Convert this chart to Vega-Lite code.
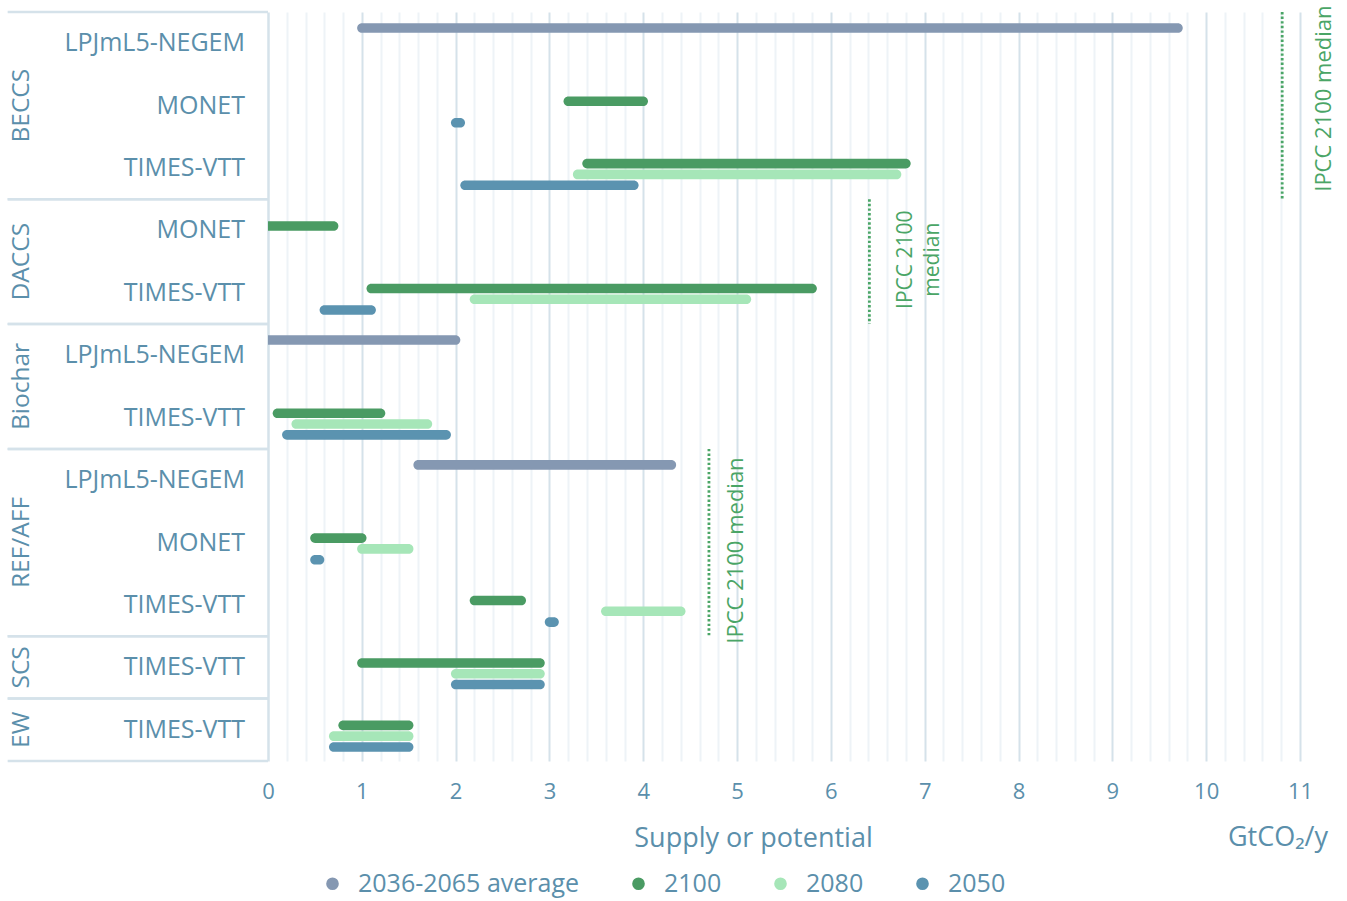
{
  "$schema": "https://vega.github.io/schema/vega-lite/v6.json",
  "width": 1032,
  "height": 749,
  "autosize": {"type": "none"},
  "padding": {"left": 268, "top": 12, "right": 47, "bottom": 140},
  "background": "white",
  "config": {
    "font": "Open Sans",
    "view": {"stroke": null}
  },
  "datasets": {
    "rows": [
      {"group": "BECCS", "model": "LPJmL5-NEGEM"},
      {"group": "BECCS", "model": "MONET"},
      {"group": "BECCS", "model": "TIMES-VTT"},
      {"group": "DACCS", "model": "MONET"},
      {"group": "DACCS", "model": "TIMES-VTT"},
      {"group": "Biochar", "model": "LPJmL5-NEGEM"},
      {"group": "Biochar", "model": "TIMES-VTT"},
      {"group": "REF/AFF", "model": "LPJmL5-NEGEM"},
      {"group": "REF/AFF", "model": "MONET"},
      {"group": "REF/AFF", "model": "TIMES-VTT"},
      {"group": "SCS", "model": "TIMES-VTT"},
      {"group": "EW", "model": "TIMES-VTT"}
    ],
    "groups": [
      {"group": "BECCS", "n": 3, "first": "LPJmL5-NEGEM", "center": "MONET", "last": "TIMES-VTT"},
      {"group": "DACCS", "n": 2, "first": "MONET", "center": "MONET", "last": "TIMES-VTT"},
      {"group": "Biochar", "n": 2, "first": "LPJmL5-NEGEM", "center": "LPJmL5-NEGEM", "last": "TIMES-VTT"},
      {"group": "REF/AFF", "n": 3, "first": "LPJmL5-NEGEM", "center": "MONET", "last": "TIMES-VTT"},
      {"group": "SCS", "n": 1, "first": "TIMES-VTT", "center": "TIMES-VTT", "last": "TIMES-VTT"},
      {"group": "EW", "n": 1, "first": "TIMES-VTT", "center": "TIMES-VTT", "last": "TIMES-VTT"}
    ],
    "ipcc": [
      {"group": "BECCS", "median": 10.81, "first": "LPJmL5-NEGEM", "center": "MONET", "last": "TIMES-VTT"},
      {"group": "DACCS", "median": 6.41, "first": "MONET", "center": "MONET", "last": "TIMES-VTT"},
      {"group": "REF/AFF", "median": 4.7, "first": "LPJmL5-NEGEM", "center": "MONET", "last": "TIMES-VTT"}
    ],
    "bars": [
      {"group": "BECCS", "model": "LPJmL5-NEGEM", "series": "2036-2065 average", "start": 0.95, "end": 9.75},
      {"group": "BECCS", "model": "MONET", "series": "2100", "start": 3.15, "end": 4.05},
      {"group": "BECCS", "model": "MONET", "series": "2050", "start": 1.95, "end": 2.1},
      {"group": "BECCS", "model": "TIMES-VTT", "series": "2100", "start": 3.35, "end": 6.85},
      {"group": "BECCS", "model": "TIMES-VTT", "series": "2080", "start": 3.25, "end": 6.75},
      {"group": "BECCS", "model": "TIMES-VTT", "series": "2050", "start": 2.05, "end": 3.95},
      {"group": "DACCS", "model": "MONET", "series": "2100", "start": -0.3, "end": 0.75},
      {"group": "DACCS", "model": "TIMES-VTT", "series": "2100", "start": 1.05, "end": 5.85},
      {"group": "DACCS", "model": "TIMES-VTT", "series": "2080", "start": 2.15, "end": 5.15},
      {"group": "DACCS", "model": "TIMES-VTT", "series": "2050", "start": 0.55, "end": 1.15},
      {"group": "Biochar", "model": "LPJmL5-NEGEM", "series": "2036-2065 average", "start": -0.3, "end": 2.05},
      {"group": "Biochar", "model": "TIMES-VTT", "series": "2100", "start": 0.05, "end": 1.25},
      {"group": "Biochar", "model": "TIMES-VTT", "series": "2080", "start": 0.25, "end": 1.75},
      {"group": "Biochar", "model": "TIMES-VTT", "series": "2050", "start": 0.15, "end": 1.95},
      {"group": "REF/AFF", "model": "LPJmL5-NEGEM", "series": "2036-2065 average", "start": 1.55, "end": 4.35},
      {"group": "REF/AFF", "model": "MONET", "series": "2100", "start": 0.45, "end": 1.05},
      {"group": "REF/AFF", "model": "MONET", "series": "2080", "start": 0.95, "end": 1.55},
      {"group": "REF/AFF", "model": "MONET", "series": "2050", "start": 0.45, "end": 0.6},
      {"group": "REF/AFF", "model": "TIMES-VTT", "series": "2100", "start": 2.15, "end": 2.75},
      {"group": "REF/AFF", "model": "TIMES-VTT", "series": "2080", "start": 3.55, "end": 4.45},
      {"group": "REF/AFF", "model": "TIMES-VTT", "series": "2050", "start": 2.95, "end": 3.1},
      {"group": "SCS", "model": "TIMES-VTT", "series": "2100", "start": 0.95, "end": 2.95},
      {"group": "SCS", "model": "TIMES-VTT", "series": "2080", "start": 1.95, "end": 2.95},
      {"group": "SCS", "model": "TIMES-VTT", "series": "2050", "start": 1.95, "end": 2.95},
      {"group": "EW", "model": "TIMES-VTT", "series": "2100", "start": 0.75, "end": 1.55},
      {"group": "EW", "model": "TIMES-VTT", "series": "2080", "start": 0.65, "end": 1.55},
      {"group": "EW", "model": "TIMES-VTT", "series": "2050", "start": 0.65, "end": 1.55}
    ]
  },
  "layer": [
    {
      "data": {"name": "bars"},
      "transform": [{"calculate": "datum.group + ' · ' + datum.model", "as": "row"}],
      "mark": {"type": "bar", "height": 9.6, "cornerRadius": 4.8, "clip": true},
      "encoding": {
        "y": {
          "field": "row", "type": "nominal", "axis": null,
          "scale": {
            "domain": ["BECCS · LPJmL5-NEGEM", "BECCS · MONET", "BECCS · TIMES-VTT", "DACCS · MONET", "DACCS · TIMES-VTT", "Biochar · LPJmL5-NEGEM", "Biochar · TIMES-VTT", "REF/AFF · LPJmL5-NEGEM", "REF/AFF · MONET", "REF/AFF · TIMES-VTT", "SCS · TIMES-VTT", "EW · TIMES-VTT"],
            "paddingInner": 0, "paddingOuter": 0
          }
        },
        "yOffset": {
          "field": "series", "type": "nominal",
          "scale": {"domain": ["2036-2065 average", "2100", "2080", "2050"], "paddingInner": 0, "paddingOuter": 0.89, "align": 0.55}
        },
        "x": {
          "field": "start", "type": "quantitative",
          "scale": {"domain": [0, 11], "nice": false, "zero": false},
          "axis": {
            "values": [0, 0.2, 0.4, 0.6, 0.8, 1, 1.2, 1.4, 1.6, 1.8, 2, 2.2, 2.4, 2.6, 2.8, 3, 3.2, 3.4, 3.6, 3.8, 4, 4.2, 4.4, 4.6, 4.8, 5, 5.2, 5.4, 5.6, 5.8, 6, 6.2, 6.4, 6.6, 6.8, 7, 7.2, 7.4, 7.6, 7.8, 8, 8.2, 8.4, 8.6, 8.8, 9, 9.2, 9.4, 9.6, 9.8, 10, 10.2, 10.4, 10.6, 10.8, 11],
            "tickCount": 200,
            "labelExpr": "datum.value % 1 === 0 ? '' + datum.value : ''",
            "grid": true,
            "gridColor": {"condition": {"test": "datum.value % 1 === 0", "value": "#d5e2ea"}, "value": "#eef3f7"},
            "gridWidth": {"condition": {"test": "datum.value === 0", "value": 2.5}, "value": 2},
            "domain": false,
            "ticks": false,
            "tickSize": 0,
            "labelFontSize": 22,
            "labelColor": "#5b8fab",
            "labelPadding": 20,
            "labelFlush": false,
            "labelOverlap": false,
            "labelBound": false,
            "title": "Supply or potential",
            "titleFontSize": 27,
            "titleFontWeight": "normal",
            "titleColor": "#5b8fab",
            "titleX": 485,
            "titleY": 77,
            "titleAlign": "center",
            "titleBaseline": "middle"
          }
        },
        "x2": {"field": "end"},
        "color": {
          "field": "series", "type": "nominal",
          "scale": {"domain": ["2036-2065 average", "2100", "2080", "2050"], "range": ["#8598b2", "#4a9b63", "#a6e6b8", "#5b93b0"]},
          "legend": {
            "orient": "none", "legendX": 52, "legendY": 859, "direction": "horizontal",
            "title": null, "symbolType": "circle", "symbolSize": 160, "symbolStrokeWidth": 0,
            "labelFontSize": 25, "labelColor": "#5b8fab", "labelOffset": 13, "labelLimit": 500, "columnPadding": 46
          }
        }
      }
    },
    {
      "data": {"name": "groups"},
      "transform": [{"calculate": "datum.group + ' · ' + datum.first", "as": "row"}],
      "mark": {"type": "rule", "color": "#d5e2ea", "strokeWidth": 2.5},
      "encoding": {
        "y": {"field": "row", "type": "nominal", "bandPosition": 0},
        "x": {"datum": -2.775},
        "x2": {"datum": 0}
      }
    },
    {
      "data": {"name": "groups"},
      "transform": [{"calculate": "datum.group + ' · ' + datum.last", "as": "row"}],
      "mark": {"type": "rule", "color": "#d5e2ea", "strokeWidth": 2.5},
      "encoding": {
        "y": {"field": "row", "type": "nominal", "bandPosition": 1},
        "x": {"datum": -2.775},
        "x2": {"datum": 0}
      }
    },
    {
      "data": {"name": "rows"},
      "transform": [{"calculate": "datum.group + ' · ' + datum.model", "as": "row"}],
      "mark": {"type": "text", "align": "right", "baseline": "middle", "fontSize": 25, "color": "#5b8fab", "dx": -23},
      "encoding": {
        "y": {"field": "row", "type": "nominal"},
        "x": {"datum": 0},
        "text": {"field": "model"}
      }
    },
    {
      "data": {"name": "groups"},
      "transform": [
        {"filter": "datum.n % 2 === 1"},
        {"calculate": "datum.group + ' · ' + datum.center", "as": "row"}
      ],
      "mark": {"type": "text", "align": "center", "baseline": "middle", "angle": 270, "fontSize": 24.5, "color": "#5b8fab", "dy": -246},
      "encoding": {
        "y": {"field": "row", "type": "nominal", "bandPosition": 0.5},
        "x": {"datum": 0},
        "text": {"field": "group"}
      }
    },
    {
      "data": {"name": "groups"},
      "transform": [
        {"filter": "datum.n % 2 === 0"},
        {"calculate": "datum.group + ' · ' + datum.center", "as": "row"}
      ],
      "mark": {"type": "text", "align": "center", "baseline": "middle", "angle": 270, "fontSize": 24.5, "color": "#5b8fab", "dy": -246},
      "encoding": {
        "y": {"field": "row", "type": "nominal", "bandPosition": 1},
        "x": {"datum": 0},
        "text": {"field": "group"}
      }
    },
    {
      "data": {"name": "ipcc"},
      "transform": [
        {"calculate": "datum.group + ' · ' + datum.first", "as": "top"},
        {"calculate": "datum.group + ' · ' + datum.last", "as": "bottom"}
      ],
      "mark": {"type": "rule", "color": "#4aa566", "strokeWidth": 2.8, "strokeDash": [2.4, 2.2]},
      "encoding": {
        "x": {"field": "median", "type": "quantitative"},
        "y": {"field": "top", "type": "nominal", "bandPosition": 0},
        "y2": {"field": "bottom", "bandPosition": 1}
      }
    },
    {
      "data": {"name": "ipcc"},
      "transform": [
        {"filter": "datum.group === 'BECCS'"},
        {"calculate": "datum.group + ' · ' + datum.center", "as": "row"}
      ],
      "mark": {"type": "text", "align": "center", "baseline": "middle", "angle": 270, "fontSize": 22, "color": "#4aa566", "dy": 42, "dx": 7},
      "encoding": {
        "x": {"field": "median", "type": "quantitative"},
        "y": {"field": "row", "type": "nominal", "bandPosition": 0.5},
        "text": {"value": "IPCC 2100 median"}
      }
    },
    {
      "data": {"name": "ipcc"},
      "transform": [
        {"filter": "datum.group === 'DACCS'"},
        {"calculate": "datum.group + ' · ' + datum.center", "as": "row"}
      ],
      "mark": {"type": "text", "align": "center", "baseline": "middle", "angle": 270, "fontSize": 21, "lineHeight": 27, "color": "#4aa566", "dy": 37, "dx": 2},
      "encoding": {
        "x": {"field": "median", "type": "quantitative"},
        "y": {"field": "row", "type": "nominal", "bandPosition": 1},
        "text": {"value": ["IPCC 2100", "median"]}
      }
    },
    {
      "data": {"name": "ipcc"},
      "transform": [
        {"filter": "datum.group === 'REF/AFF'"},
        {"calculate": "datum.group + ' · ' + datum.center", "as": "row"}
      ],
      "mark": {"type": "text", "align": "center", "baseline": "middle", "angle": 270, "fontSize": 22, "color": "#4aa566", "dy": 27, "dx": -8},
      "encoding": {
        "x": {"field": "median", "type": "quantitative"},
        "y": {"field": "row", "type": "nominal", "bandPosition": 0.5},
        "text": {"value": "IPCC 2100 median"}
      }
    },
    {
      "data": {"values": [{"unit": "GtCO₂/y"}]},
      "mark": {"type": "text", "align": "right", "baseline": "middle", "fontSize": 27, "color": "#5b8fab", "dx": 28, "dy": 77},
      "encoding": {
        "x": {"datum": 11},
        "y": {"datum": "EW · TIMES-VTT", "bandPosition": 1},
        "text": {"field": "unit"}
      }
    }
  ]
}
